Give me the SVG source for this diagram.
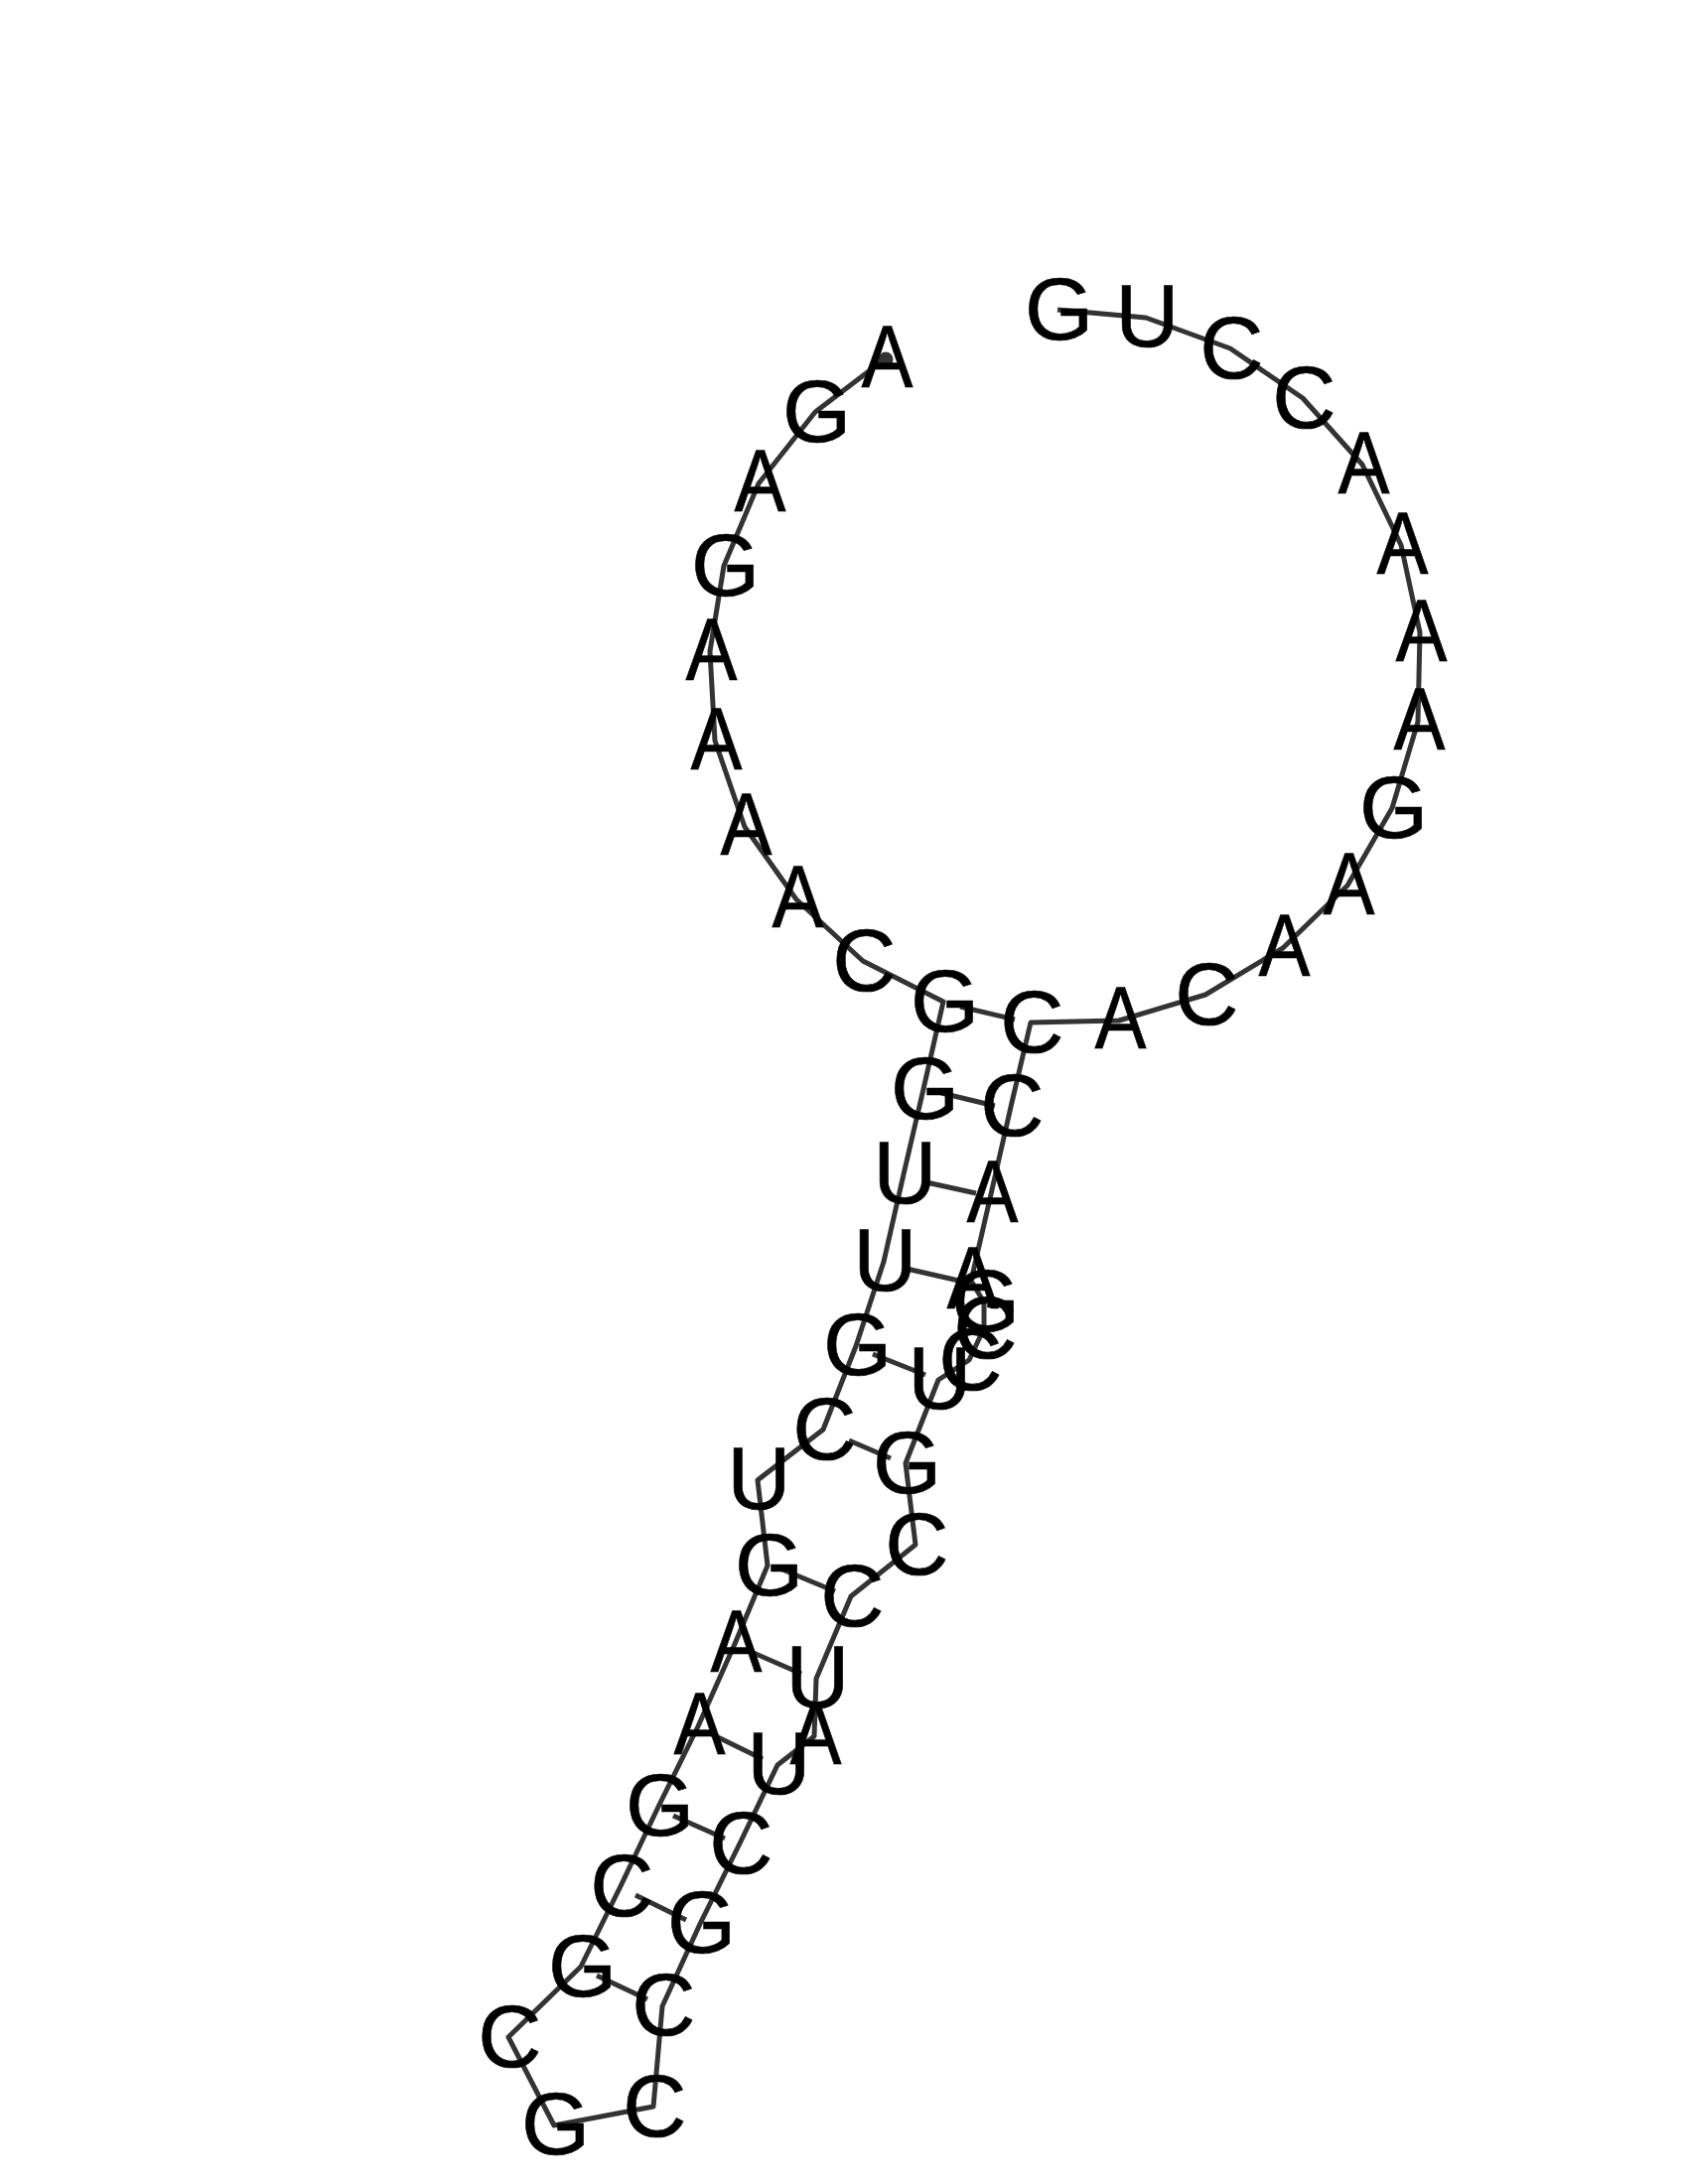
<svg xmlns="http://www.w3.org/2000/svg" width="1700" height="2200" viewBox="0 0 1700 2200">
<style>
text{font-family:"Liberation Sans",Arial,sans-serif;font-size:89px;fill:#000;stroke:#000;stroke-width:0.6;text-anchor:middle}
.b{fill:none;stroke:#333;stroke-width:5;stroke-linejoin:round}
</style>
<rect width="1700" height="2200" fill="#fff"/>
<g id="connectors">
<path class="b" d="M892 361L821 415L764 487L729 570L715 656L720 746L750 833L802 906L869 968L950 1009L930 1097L910 1183L890 1271L862 1356L829 1440L763 1491L773 1577L740 1656L703 1739L663 1820L625 1900L585 1981L512 2052L558 2141L658 2122L667 2021L705 1938L745 1857L783 1778L820 1749L822 1691L857 1608L922 1556L912 1474L945 1390L976 1370L991 1338L991 1312L978 1290L998 1203L1018 1115L1038 1030L1127 1028L1214 1002L1292 955L1357 892L1402 814L1428 727L1430 637L1411 549L1372 468L1312 401L1239 351L1154 320L1065 312"/>
<path class="b" d="M967 1014L1022 1027M948 1101L1002 1114M933 1191L983 1202M913 1278L970 1291M879 1364L932 1385M855 1451L897 1469M788 1581L841 1603M752 1662L807 1686M717 1747L768 1772M678 1829L730 1852M640 1909L691 1934M601 1990L652 2014"/>
<circle cx="892" cy="362" r="7.5" fill="#333"/>
</g>
<g id="nodes" transform="translate(1.5 0)">
<g id="n1"><text x="892" y="390" textLength="52" lengthAdjust="spacingAndGlyphs">A</text></g>
<g id="n2"><text x="821" y="445">G</text></g>
<g id="n3"><text x="764" y="515" textLength="52" lengthAdjust="spacingAndGlyphs">A</text></g>
<g id="n4"><text x="729" y="600">G</text></g>
<g id="n5"><text x="715" y="685" textLength="52" lengthAdjust="spacingAndGlyphs">A</text></g>
<g id="n6"><text x="720" y="775" textLength="52" lengthAdjust="spacingAndGlyphs">A</text></g>
<g id="n7"><text x="750" y="861" textLength="52" lengthAdjust="spacingAndGlyphs">A</text></g>
<g id="n8"><text x="802" y="934" textLength="52" lengthAdjust="spacingAndGlyphs">A</text></g>
<g id="n9"><text x="869" y="998">C</text></g>
<g id="n10"><text x="950" y="1039">G</text></g>
<g id="n11"><text x="930" y="1127">G</text></g>
<g id="n12"><text x="910" y="1212">U</text></g>
<g id="n13"><text x="890" y="1300">U</text></g>
<g id="n14"><text x="862" y="1385">G</text></g>
<g id="n15"><text x="829" y="1470">C</text></g>
<g id="n16"><text x="763" y="1520">U</text></g>
<g id="n17"><text x="773" y="1607">G</text></g>
<g id="n18"><text x="740" y="1684" textLength="52" lengthAdjust="spacingAndGlyphs">A</text></g>
<g id="n19"><text x="703" y="1767" textLength="52" lengthAdjust="spacingAndGlyphs">A</text></g>
<g id="n20"><text x="663" y="1849">G</text></g>
<g id="n21"><text x="625" y="1930">C</text></g>
<g id="n22"><text x="585" y="2011">G</text></g>
<g id="n23"><text x="512" y="2082">C</text></g>
<g id="n24"><text x="558" y="2170">G</text></g>
<g id="n25"><text x="658" y="2152">C</text></g>
<g id="n26"><text x="667" y="2050">C</text></g>
<g id="n27"><text x="705" y="1967">G</text></g>
<g id="n28"><text x="745" y="1887">C</text></g>
<g id="n29"><text x="783" y="1807">U</text></g>
<g id="n30"><text x="820" y="1777" textLength="52" lengthAdjust="spacingAndGlyphs">A</text></g>
<g id="n31"><text x="822" y="1720">U</text></g>
<g id="n32"><text x="857" y="1638">C</text></g>
<g id="n33"><text x="922" y="1586">C</text></g>
<g id="n34"><text x="912" y="1504">G</text></g>
<g id="n35"><text x="945" y="1419">U</text></g>
<g id="n36"><text x="976" y="1400">C</text></g>
<g id="n37"><text x="991" y="1368">C</text></g>
<g id="n38"><text x="991" y="1341">G</text></g>
<g id="n39"><text x="978" y="1318" textLength="52" lengthAdjust="spacingAndGlyphs">A</text></g>
<g id="n40"><text x="998" y="1231" textLength="52" lengthAdjust="spacingAndGlyphs">A</text></g>
<g id="n41"><text x="1018" y="1144">C</text></g>
<g id="n42"><text x="1038" y="1060">C</text></g>
<g id="n43"><text x="1127" y="1056" textLength="52" lengthAdjust="spacingAndGlyphs">A</text></g>
<g id="n44"><text x="1214" y="1032">C</text></g>
<g id="n45"><text x="1292" y="983" textLength="52" lengthAdjust="spacingAndGlyphs">A</text></g>
<g id="n46"><text x="1357" y="921" textLength="52" lengthAdjust="spacingAndGlyphs">A</text></g>
<g id="n47"><text x="1402" y="844">G</text></g>
<g id="n48"><text x="1428" y="755" textLength="52" lengthAdjust="spacingAndGlyphs">A</text></g>
<g id="n49"><text x="1430" y="666" textLength="52" lengthAdjust="spacingAndGlyphs">A</text></g>
<g id="n50"><text x="1411" y="578" textLength="52" lengthAdjust="spacingAndGlyphs">A</text></g>
<g id="n51"><text x="1372" y="497" textLength="52" lengthAdjust="spacingAndGlyphs">A</text></g>
<g id="n52"><text x="1312" y="431">C</text></g>
<g id="n53"><text x="1239" y="381">C</text></g>
<g id="n54"><text x="1154" y="349">U</text></g>
<g id="n55"><text x="1065" y="342">G</text></g>
</g>
</svg>
